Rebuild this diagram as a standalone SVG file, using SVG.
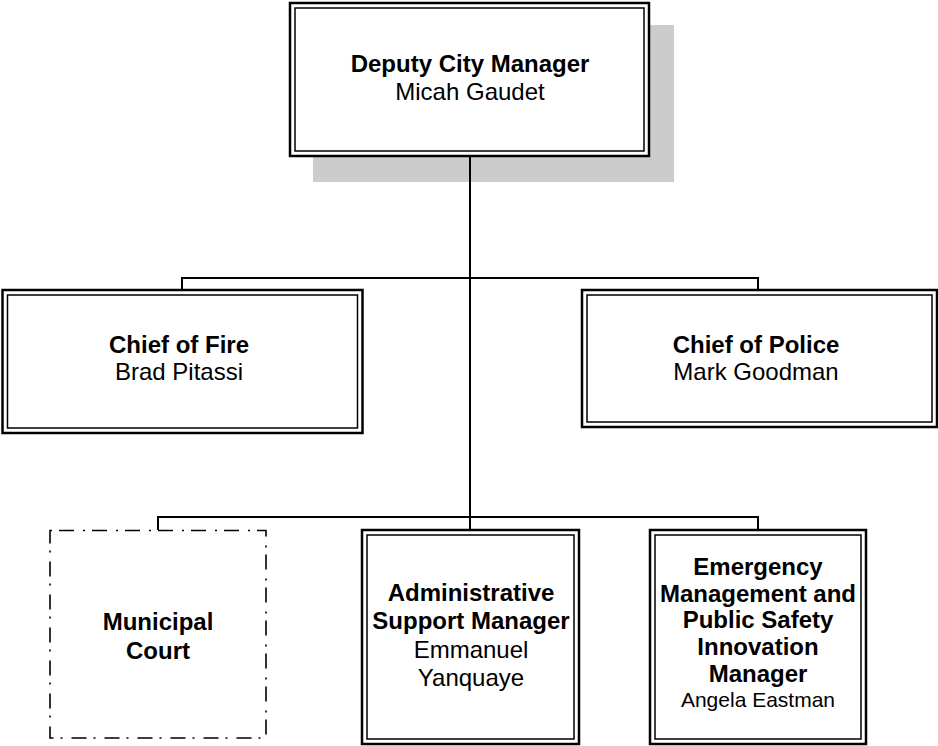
<svg xmlns="http://www.w3.org/2000/svg" width="938" height="746" viewBox="0 0 938 746">
<style>
.o{fill:#fff;stroke:#000;stroke-width:2.5}
.i{fill:none;stroke:#000;stroke-width:1.5}
.c{fill:none;stroke:#000;stroke-width:2}
.d{fill:#fff;stroke:#000;stroke-width:1.6;stroke-dasharray:2 7 15 9}
text{font-family:"Liberation Sans",Arial,sans-serif;font-size:24px;text-anchor:middle;fill:#000}
.b{font-weight:bold}
.s{font-size:21px}
</style>
<rect width="938" height="746" fill="#fff"/>
<g id="deputy">
<rect x="313" y="25" width="361" height="157" fill="#cccccc"/>
<rect class="o" x="290" y="3" width="359" height="153"/>
<rect class="i" x="295" y="8" width="349" height="143"/>
<text class="b" x="470" y="72">Deputy City Manager</text>
<text x="470" y="100">Micah Gaudet</text>
</g>
<g id="fire">
<rect class="o" x="2.5" y="290" width="360" height="143"/>
<rect class="i" x="7.5" y="295" width="350" height="133"/>
<text class="b" x="179" y="353">Chief of Fire</text>
<text x="179" y="380">Brad Pitassi</text>
</g>
<g id="police">
<rect class="o" x="582" y="290" width="355" height="137"/>
<rect class="i" x="587" y="295" width="345" height="127"/>
<text class="b" x="756" y="353">Chief of Police</text>
<text x="756" y="380">Mark Goodman</text>
</g>
<g id="court">
<path class="d" d="M50,530.5 H266 V738 H50 Z"/>
<text class="b" x="158" y="630">Municipal</text>
<text class="b" x="158" y="659">Court</text>
</g>
<g id="admin">
<rect class="o" x="362" y="530" width="217" height="214"/>
<rect class="i" x="367" y="535" width="207" height="204"/>
<text class="b" x="471" y="601">Administrative</text>
<text class="b" x="471" y="629">Support Manager</text>
<text x="471" y="658">Emmanuel</text>
<text x="471" y="686">Yanquaye</text>
</g>
<g id="emergency">
<rect class="o" x="650" y="530" width="216" height="214"/>
<rect class="i" x="655" y="535" width="206" height="204"/>
<text class="b" x="758" y="575">Emergency</text>
<text class="b" x="758" y="602">Management and</text>
<text class="b" x="758" y="628">Public Safety</text>
<text class="b" x="758" y="655">Innovation</text>
<text class="b" x="758" y="682">Manager</text>
<text class="s" x="758" y="707">Angela Eastman</text>
</g>
<g id="connectors">
<line class="c" x1="470" y1="157" x2="470" y2="529"/>
<polyline class="c" points="182,289 182,278 758,278 758,289"/>
<polyline class="c" points="158,530 158,517 758,517 758,529"/>
</g>
</svg>
